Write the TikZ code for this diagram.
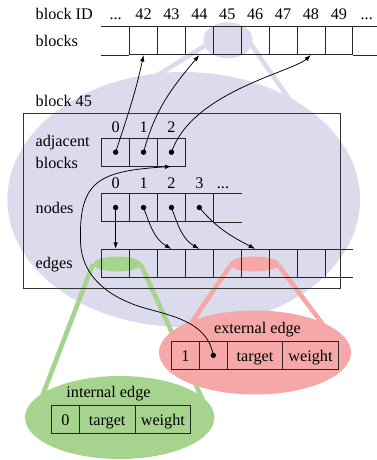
\documentclass[tikz,border=0pt]{standalone}
\usepackage{fontspec}
\setmainfont{Liberation Serif}
\usetikzlibrary{arrows.meta,shapes.geometric}
\definecolor{lav}{RGB}{219,219,237}
\definecolor{grn}{RGB}{166,212,143}
\definecolor{pnk}{RGB}{246,168,168}
\begin{document}
\begin{tikzpicture}[x=1pt,y=1pt,
  every node/.style={font=\fontsize{16.2pt}{19pt}\selectfont, inner sep=0pt},
  cell/.style={draw=black!85, line width=0.75pt, minimum width=27.9pt,
    minimum height=28pt, text height=11.5pt, text depth=0pt},
  openline/.style={draw=black!85, line width=0.75pt},
  lbl/.style={anchor=base west},
  idx/.style={anchor=base},
  pt/.style={circle, fill=black, minimum size=5.4pt},
  arr/.style={line width=0.75pt, -{Latex[length=6.5pt,width=4.4pt]}},
  lens/.style={ellipse, draw=none, inner sep=0pt},
  band/.style={line width=4.6pt},
]
\useasboundingbox (0,0) rectangle (377,-460);

% zoom lens around block 45
\node[lens, fill=lav, minimum width=352.6pt, minimum height=255pt] (blk) at (183.7,-199.5) {};
\node[lens, fill=lav, minimum width=49.4pt, minimum height=36pt] (sel) at (228,-40.3) {};
\coordinate (sel-l) at (214,-40);
\coordinate (sel-r) at (250,-43);
\coordinate (blk-l) at (150,-80);
\coordinate (blk-r) at (292,-103);
\draw[band, lav] (sel-l) -- (blk-l);
\draw[band, lav] (sel-r) -- (blk-r);

% lenses on the edge entries
\coordinate (gs-l) at (93,-264);
\coordinate (gs-r) at (141,-265);
\coordinate (gb-l) at (40,-402);
\coordinate (gb-r) at (203.7,-402);
\coordinate (rs-l) at (230,-266);
\coordinate (rs-r) at (279,-266);
\coordinate (rb-l) at (192,-322);
\coordinate (rb-r) at (324,-326);
\draw[band, grn] (gs-l) -- (gb-l);
\draw[band, grn] (gs-r) -- (gb-r);
\draw[band, pnk] (rs-l) -- (rb-l);
\draw[band, pnk] (rs-r) -- (rb-r);
\node[lens, fill=grn, minimum width=48pt, minimum height=15pt] (gsmall) at (117.5,-264) {};
\node[lens, fill=pnk, minimum width=50pt, minimum height=15pt] (rsmall) at (254.5,-264) {};
\node[lens, fill=grn, minimum width=189.4pt, minimum height=83pt] (gbig) at (119.7,-417.5) {};
\node[lens, fill=pnk, minimum width=192pt, minimum height=84pt] (rbig) at (255,-352.5) {};

% block array
\node[lbl] (lid) at (35.5,-20) {block ID};
\node[lbl] (lblocks) at (35.5,-46.5) {blocks};
\node[idx] (dotsl) at (115.6,-20) {...};
\node[idx] (dotsr) at (366.75,-20) {...};
\foreach \k [count=\i] in {42,...,49} {
  \node[cell] (b\k) at ({101.7+27.9*(\i+0.5)},-40.65) {};
  \node[idx] at ({101.7+27.9*(\i+0.5)},-20) {\k};
}
\draw[openline] (b42.north west) -- ++(-27.9,0);
\draw[openline] (b42.south west) -- ++(-27.9,0);
\draw[openline] (b49.north east) -- ++(30,0);
\draw[openline] (b49.south east) -- ++(30,0);

% block 45
\node[lbl] (l45) at (35.5,-106.5) {block 45};
\node[draw=black!80, line width=0.8pt, minimum width=316.7pt, minimum height=175pt] (frame) at (181.65,-200.8) {};

\node[lbl] (ladj) at (35.5,-146.8) {adjacent};
\node[lbl] (ladj2) at (35.5,-168.3) {blocks};
\node[lbl] (lnodes) at (35.5,-213.3) {nodes};
\node[lbl] (ledges) at (35.5,-268.5) {edges};

\foreach \i in {0,1,2} {
  \node[cell, minimum height=27.7pt] (a\i) at ({101.7+27.9*(\i+0.5)},-152.2) {};
  \node[pt] (ad\i) at (a\i.center) {};
  \node[idx] at ({101.7+27.9*(\i+0.5)},-132.3) {\i};
}
\foreach \i in {0,...,3} {
  \node[cell, minimum height=28.4pt] (n\i) at ({101.7+27.9*(\i+0.5)},-207.5) {};
  \node[pt] (nd\i) at (n\i.center) {};
  \node[idx] at ({101.7+27.9*(\i+0.5)},-188.3) {\i};
}
\node[idx] (ndots) at (223,-188.3) {...};
\draw[openline] (n3.north east) -- ++(27.9,0);
\draw[openline] (n3.south east) -- ++(27.9,0);

\foreach \i in {0,...,7} {
  \node[cell] (e\i) at ({101.7+27.9*(\i+0.5)},-263.3) {};
}
\draw[openline] (e7.north east) -- ++(27.9,0);
\draw[openline] (e7.south east) -- ++(27.9,0);

% edge records
\node[idx] (lext) at (257.5,-333.6) {external edge};
\node[cell, minimum width=27.6pt, minimum height=27.3pt] (x1) at (185.5,-355.35) {1};
\node[cell, minimum width=28pt, minimum height=27.3pt] (xd) at (213.3,-355.35) {};
\node[cell, minimum width=55.4pt, minimum height=27.3pt] (xt) at (255,-355.35) {target};
\node[cell, minimum width=55.6pt, minimum height=27.3pt] (xw) at (310.5,-355.35) {weight};
\node[pt] (xdot) at (xd.center) {};

\node[idx] (lint) at (108.5,-397) {internal edge};
\node[cell, minimum width=27.6pt, minimum height=27.6pt] (i0) at (65.5,-419.5) {0};
\node[cell, minimum width=55.7pt, minimum height=27.6pt] (it) at (107.15,-419.5) {target};
\node[cell, minimum width=55.7pt, minimum height=27.6pt] (iw) at (162.85,-419.5) {weight};

% pointers to neighbouring blocks
\draw[arr] (ad0.center) to[out=72,in=-102] (b42.south);
\draw[arr] (ad1.center) to[out=75,in=-130] (b44.south);
\draw[arr] (ad2.center) .. controls (192,-92) and (292,-72) .. (b48.south);

% pointers from nodes into the edge array
\draw[arr] (nd0.center) -- (e0.north);
\draw[arr] (nd1.center) to[out=-70,in=150] (e2.north);
\draw[arr] (nd2.center) to[out=-70,in=150] (e3.north);
\draw[arr] (nd3.center) to[out=-50,in=152] (e5.north);

% external edge refers back to an adjacent block
\draw[arr] (xdot.center) to[out=100,in=-15] (148,-309)
  to[out=165,in=-90] (80.5,-240)
  .. controls (79,-180) and (100,-171) .. (a2.south);
\end{tikzpicture}
\end{document}
